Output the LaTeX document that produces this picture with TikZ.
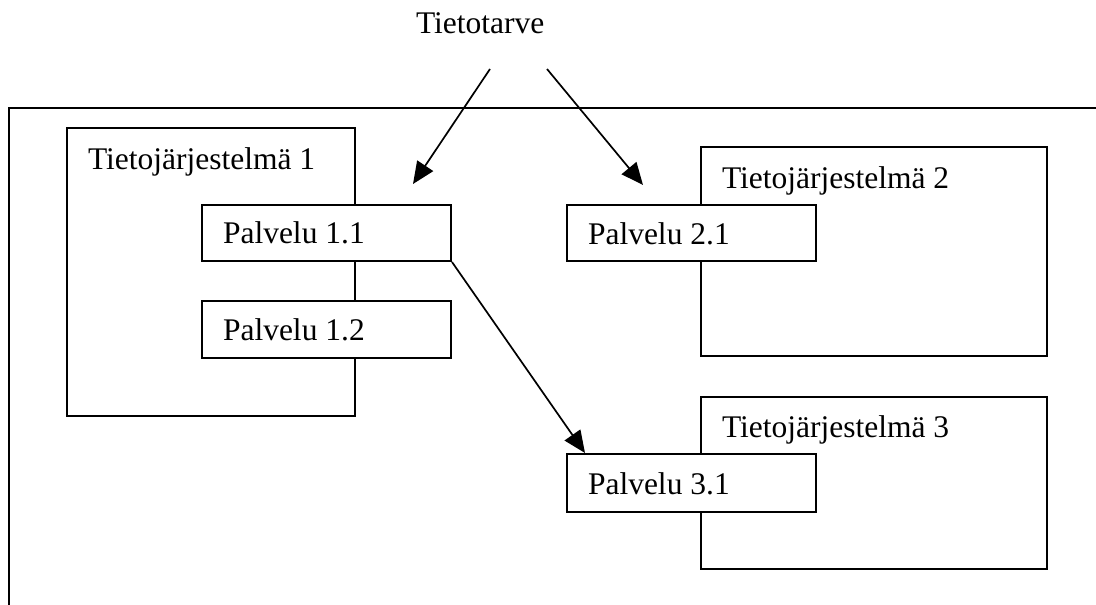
\documentclass[tikz,border=0pt]{standalone}
\usepackage{fontspec}
\setmainfont{Liberation Serif}
\usetikzlibrary{arrows.meta}
\begin{document}
\begin{tikzpicture}[x=1pt,y=-1pt,
  line width=2pt,
  sysbox/.style={draw,rectangle,inner sep=0pt,line width=2pt},
  svcbox/.style={draw,rectangle,fill=white,inner sep=0pt,line width=2pt},
  lbl/.style={anchor=base west,inner sep=0pt,font=\fontsize{31.5}{36}\selectfont},
  arr/.style={-{Triangle[length=22pt,width=19pt]},line width=1.7pt}]
\useasboundingbox (0,0) rectangle (1096,605);
% outer frame
\coordinate (fbl) at (9,605);
\coordinate (ftl) at (9,108);
\coordinate (ftr) at (1096,108);
\draw (fbl) -- (ftl) -- (ftr);
% systems
\node[sysbox,minimum width=288pt,minimum height=288pt] (sys1) at (211,272) {};
\node[sysbox,minimum width=346pt,minimum height=209pt] (sys2) at (874,251.5) {};
\node[sysbox,minimum width=346pt,minimum height=172pt] (sys3) at (874,483) {};
% services
\node[svcbox,minimum width=249pt,minimum height=56pt] (p11) at (326.5,233) {};
\node[svcbox,minimum width=249pt,minimum height=57pt] (p12) at (326.5,329.5) {};
\node[svcbox,minimum width=249pt,minimum height=56pt] (p21) at (691.5,233) {};
\node[svcbox,minimum width=249pt,minimum height=58pt] (p31) at (691.5,483) {};
% labels
\node[lbl] (t0) at (415,33) {Tietotarve};
\node[lbl] (t1) at (87,169) {Tietojärjestelmä 1};
\node[lbl] (t2) at (721,188) {Tietojärjestelmä 2};
\node[lbl] (t3) at (721,437) {Tietojärjestelmä 3};
\node[lbl] (t11) at (222,243) {Palvelu 1.1};
\node[lbl] (t12) at (222,340) {Palvelu 1.2};
\node[lbl] (t21) at (587,244) {Palvelu 2.1};
\node[lbl] (t31) at (587,494) {Palvelu 3.1};
% arrows
\coordinate (a1s) at (490,69);
\coordinate (a1e) at (413,184);
\coordinate (a2s) at (547,69);
\coordinate (a2e) at (643,185);
\coordinate (a3e) at (585,453);
\draw[arr] (a1s) -- (a1e);
\draw[arr] (a2s) -- (a2e);
\draw[arr] (p11.south east) -- (a3e);
\end{tikzpicture}
\end{document}
